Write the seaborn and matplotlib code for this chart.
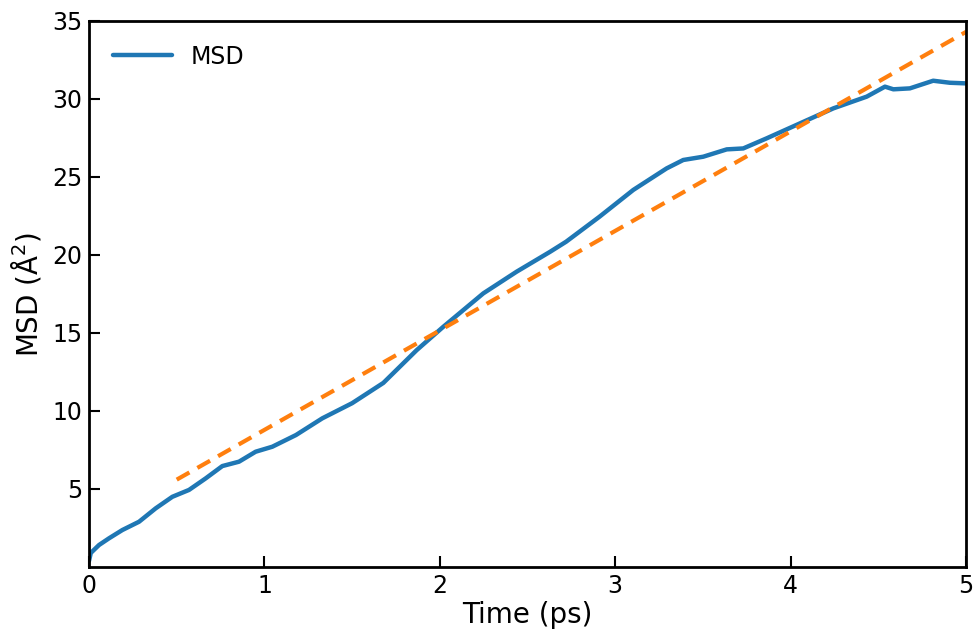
import numpy as np
import pandas as pd
import matplotlib
matplotlib.use("Agg")
import matplotlib.pyplot as plt
import seaborn as sns

time_ps = [0.0, 0.01, 0.057, 0.114, 0.19, 0.285, 0.38, 0.475, 0.57, 0.665, 0.76, 0.855,
           0.95, 1.045, 1.18, 1.33, 1.50, 1.678, 1.868, 2.02, 2.248, 2.438, 2.628, 2.72,
           2.91, 3.103, 3.293, 3.388, 3.502, 3.636, 3.73, 3.864, 4.054, 4.244, 4.434,
           4.538, 4.586, 4.68, 4.813, 4.908, 5.0]
msd = [0.4, 0.9, 1.41, 1.84, 2.37, 2.9, 3.76, 4.5, 4.94, 5.68, 6.47, 6.75,
       7.39, 7.71, 8.46, 9.53, 10.5, 11.8, 13.9, 15.4, 17.54, 18.93, 20.2, 20.85,
       22.45, 24.17, 25.55, 26.09, 26.3, 26.77, 26.83, 27.48, 28.44, 29.4, 30.15,
       30.79, 30.62, 30.68, 31.17, 31.04, 31.0]
fit_x = [0.5, 5.0]
fit_y = [5.6, 34.3]

sns.set_style("white")
plt.rcParams['font.family'] = ['DejaVu Sans']
plt.rcParams['text.color'] = 'black'
plt.rcParams['axes.labelcolor'] = 'black'
plt.rcParams['xtick.color'] = 'black'
plt.rcParams['ytick.color'] = 'black'

fig = plt.figure(figsize=(9.73, 6.3), dpi=100)
ax = fig.add_axes([0.0915, 0.1, 0.9013, 0.8667])

df = pd.DataFrame({"Time": time_ps, "MSD": msd})
sns.lineplot(data=df, x="Time", y="MSD", ax=ax, color="#1f77b4", linewidth=3.2, label="MSD")
fit_df = pd.DataFrame({"Time": fit_x, "Fit": fit_y})
sns.lineplot(data=fit_df, x="Time", y="Fit", ax=ax, color="#ff7f0e", linewidth=3.0,
             linestyle=(0, (3.5, 2.2)), legend=False)

ax.set_xlim(0, 5)
ax.set_ylim(0, 35)
ax.set_xticks([0, 1, 2, 3, 4, 5])
ax.set_yticks([5, 10, 15, 20, 25, 30, 35])
ax.tick_params(axis="both", direction="in", length=8, width=1.5, labelsize=17,
               left=True, bottom=True, top=False, right=False, pad=5,
               colors="black")
for s in ax.spines.values():
    s.set_linewidth(2)
    s.set_color("black")
ax.set_xlabel("Time (ps)", fontsize=20, labelpad=2, color="black")
ax.set_ylabel("MSD (Å$^2$)", fontsize=20, labelpad=6, color="black")
leg = ax.legend(loc="upper left", frameon=False, fontsize=17, handlelength=2.5,
                borderaxespad=0.6)
for t in leg.get_texts():
    t.set_color("black")

fig.savefig("out.png", dpi=100)
